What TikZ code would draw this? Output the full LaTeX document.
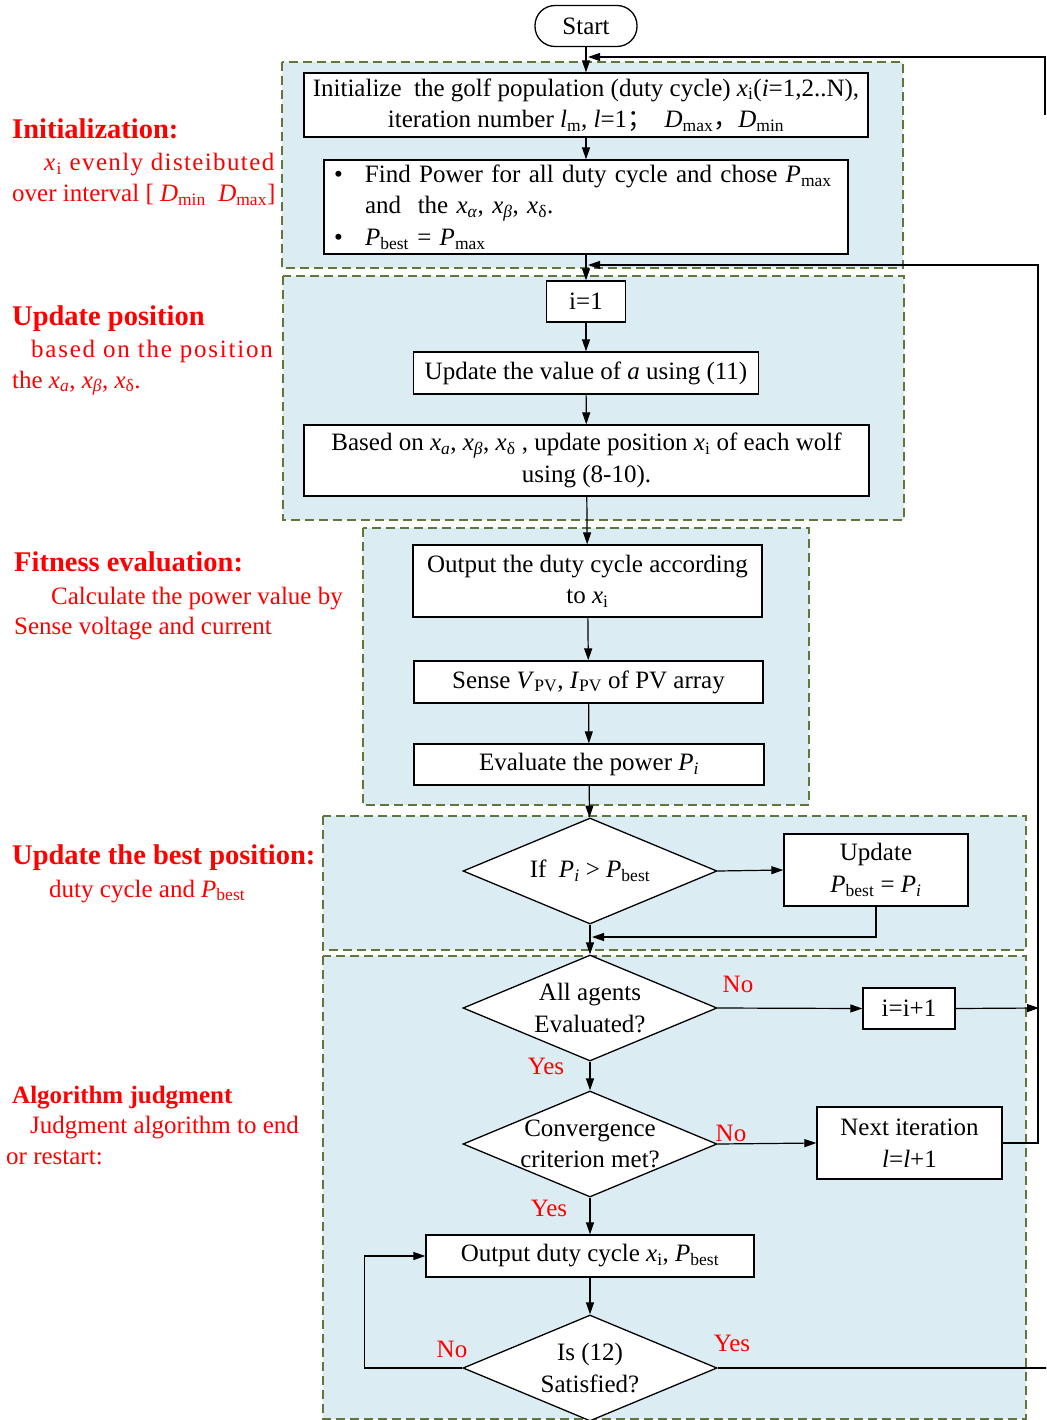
\documentclass[tikz,border=0pt]{standalone}
\usepackage{fontspec}
\setmainfont{Liberation Serif}
\newfontfamily\cjk{Noto Sans CJK SC}
\usetikzlibrary{shapes.geometric,arrows.meta}
\definecolor{grpfill}{RGB}{219,237,243}
\definecolor{grpline}{RGB}{96,118,58}
\newcommand\sbs[1]{\textsubscript{#1}}
\newcommand\ti[1]{\textit{#1}}
\newcommand\fs{\fontsize{25}{31.5}\selectfont}
\newcommand\fh{\fontsize{28.5}{34}\selectfont\bfseries}
\newcommand\fha{\fontsize{25}{31}\selectfont\bfseries}
\begin{document}
\begin{tikzpicture}[x=1pt,y=-1pt,
  box/.style={draw=black, line width=1.3pt, fill=white, inner sep=0pt, align=center, font=\fs},
  dia/.style={draw=black, line width=1.3pt, fill=white, diamond, inner sep=0pt, minimum width=254pt, minimum height=106pt},
  dtext/.style={font=\fs, align=center, inner sep=0pt},
  arr/.style={-{Triangle[length=12pt,width=8pt]}, line width=1.2pt},
  ln/.style={line width=1.2pt},
  grp/.style={fill=grpfill, draw=grpline, line width=1.6pt, dash pattern=on 9pt off 5pt},
  redt/.style={text=red, anchor=base west, inner sep=0pt, font=\fs},
  redh/.style={text=red, anchor=base west, inner sep=0pt, font=\fh},
  yn/.style={text=red, inner sep=0pt, font=\fs}]
\useasboundingbox (0,0) rectangle (1046,1420);
\clip (0,0) rectangle (1046,1420);

% group backgrounds
\draw[grp] (282,62) rectangle (903,268);
\draw[grp] (283,276) rectangle (904,520);
\draw[grp] (363,528) rectangle (809,805);
\draw[grp] (323,816) rectangle (1026,950);
\draw[grp] (323,956) rectangle (1026,1419);

% red labels
\node[redh] (l1) at (12,139) {Initialization:};
\node[redt] (l2) at (44,171) {\addfontfeatures{LetterSpace=5.5}\ti{x}\sbs{i} evenly disteibuted};
\node[redt] (l3) at (12,202) {over interval [ \ti{D}\sbs{min}~ \ti{D}\sbs{max}]};
\node[redh] (l4) at (12,325) {Update position};
\node[redt] (l5) at (31,357) {\addfontfeatures{LetterSpace=7}based on the position};
\node[redt] (l6) at (12,388) {the \ti{x}\sbs{\ti{a}}, \ti{x}\sbs{\ti{β}}, \ti{x}\sbs{δ}.};
\node[redh] (l7) at (14,571) {Fitness evaluation:};
\node[redt] (l8) at (51,604) {Calculate the power value by};
\node[redt] (l9) at (14,634) {Sense voltage and current};
\node[redh] (l10) at (12,864) {Update the best position:};
\node[redt] (l11) at (49,897) {duty cycle and \ti{P}\sbs{best}};
\node[redt,font=\fha] (l12) at (12,1103) {Algorithm judgment};
\node[redt] (l13) at (30,1133) {Judgment algorithm to end};
\node[redt] (l14) at (6,1164) {or restart:};

% nodes
\node[box, rounded corners=20pt, minimum width=102pt, minimum height=41pt] (start) at (586,26) {Start};
\node[box, minimum width=564pt, minimum height=64pt] (init) at (586,105)
  {Initialize~ the golf population (duty cycle) \ti{x}\sbs{i}(\ti{i}=1,2..N),\\
   iteration number \ti{l}\sbs{m}, \ti{l}=1{\cjk ；}~ \ti{D}\sbs{max}{\cjk ，}\ti{D}\sbs{min}};
\node[box, align=left, text width=504pt, inner xsep=10pt, minimum height=94pt] (find) at (586,207)
  {\makebox[31pt][l]{•}Find Power for all duty cycle and chose \ti{P}\sbs{max}\\
   \hspace*{31pt}and~ the \ti{x}\sbs{\ti{α}}, \ti{x}\sbs{\ti{β}}, \ti{x}\sbs{δ}.\\
   \makebox[31pt][l]{•}\ti{P}\sbs{best} = \ti{P}\sbs{max}};
\node[box, minimum width=79pt, minimum height=41pt] (i1) at (586,301.5) {i=1};
\node[box, minimum width=345pt, minimum height=42pt] (upa) at (586,373) {Update the value of \ti{a} using (11)};
\node[box, minimum width=565pt, minimum height=71pt] (based) at (586.5,460.5)
  {Based on \ti{x}\sbs{\ti{a}}, \ti{x}\sbs{\ti{β}}, \ti{x}\sbs{δ} , update position \ti{x}\sbs{i} of each wolf\\ using (8-10).};
\node[box, minimum width=349pt, minimum height=72pt] (outp) at (587.5,581)
  {Output the duty cycle according\\ to \ti{x}\sbs{i}};
\node[box, minimum width=349pt, minimum height=42pt] (sense) at (588.5,682)
  {Sense \ti{V}\sbs{PV}, \ti{I}\sbs{PV} of PV array};
\node[box, minimum width=350pt, minimum height=41pt] (eval) at (589,764.5)
  {Evaluate the power \ti{P}\sbs{\ti{i}}};
\node[dia, label={[dtext]center:{If~ \ti{P}\sbs{\ti{i}} > \ti{P}\sbs{best}}}] (d1) at (590,871) {};
\node[box, minimum width=184pt, minimum height=72pt] (upd) at (876,870)
  {Update\\ \ti{P}\sbs{best} = \ti{P}\sbs{\ti{i}}};
\node[dia, label={[dtext]center:{All agents\\Evaluated?}}] (d2) at (590,1008) {};
\node[box, minimum width=92pt, minimum height=41pt] (ii) at (909,1008.5) {i=i+1};
\node[dia, label={[dtext]center:{Convergence\\criterion met?}}] (d3) at (590,1144) {};
\node[box, minimum width=185pt, minimum height=72pt] (nx) at (909.5,1143)
  {Next iteration\\ \ti{l}=\ti{l}+1};
\node[box, minimum width=328pt, minimum height=42pt] (od) at (590,1256)
  {Output duty cycle \ti{x}\sbs{i}, \ti{P}\sbs{best}};
\node[dia, label={[dtext]center:{Is (12)\\Satisfied?}}] (d4) at (590,1368) {};

% coordinates for free ends
\coordinate (tr) at (1045,115);
\coordinate (m1) at (588,57);
\coordinate (rv) at (1039,1008);
\coordinate (rt) at (1038,265);
\coordinate (m2) at (588,265);
\coordinate (m3) at (592,937);
\coordinate (ye) at (1047,1368);

% connectors
\draw[arr] (start) -- (init);
\draw[arr] (tr) |- (m1);
\draw[arr] (init) -- (find);
\draw[arr] (find) -- (i1);
\draw[arr] (nx.east) -| (rt) -- (m2);
\draw[arr] (i1) -- (upa);
\draw[arr] (upa) -- (based);
\draw[arr] (based) -- (outp);
\draw[arr] (outp) -- (sense);
\draw[arr] (sense) -- (eval);
\draw[arr] (eval) -- (d1);
\draw[arr] (d1.east) -- (upd.west);
\draw[arr] (upd.south) |- (m3);
\draw[arr] (d1.south) -- (d2.north);
\draw[arr] (d2.east) -- (ii.west);
\draw[arr] (ii.east) -- (rv);
\draw[arr] (d2.south) -- (d3.north);
\draw[arr] (d3.east) -- (nx.west);
\draw[arr] (d3.south) -- (od.north);
\draw[arr] (od.south) -- (d4.north);
\draw[arr] (d4.west) -- ++(-98,0) |- (od.west);
\draw[ln] (d4.east) -- (ye);

% yes/no labels
\node[yn] (n1) at (738,984) {No};
\node[yn] (y1) at (546,1066) {Yes};
\node[yn] (n2) at (731,1133) {No};
\node[yn] (y2) at (549,1208) {Yes};
\node[yn] (n3) at (452,1349) {No};
\node[yn] (y3) at (732,1343) {Yes};
\end{tikzpicture}
\end{document}
